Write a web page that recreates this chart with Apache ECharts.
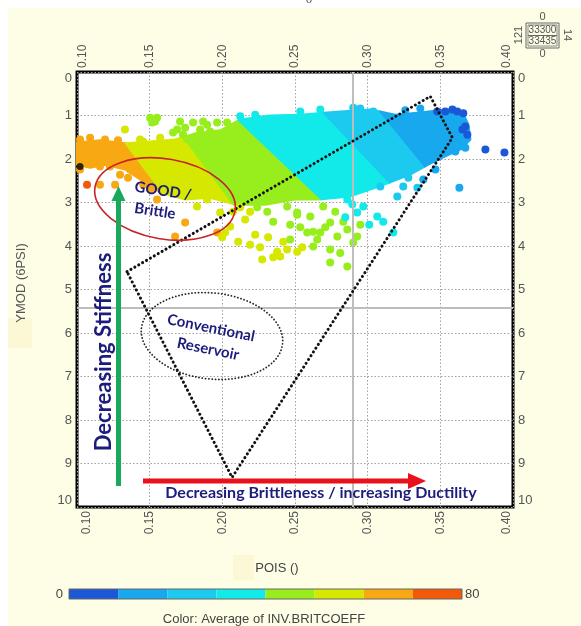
<!DOCTYPE html>
<html><head><meta charset="utf-8">
<script src="https://cdn.jsdelivr.net/npm/echarts@6/dist/echarts.min.js"></script>
<style>html,body{margin:0;padding:0;background:#fff}#c{width:581px;height:626px}</style>
</head><body><div id="c"></div>
<script>
// ---------- data ----------
const xTickLabels = ['0.10','0.15','0.20','0.25','0.30','0.35','0.40'];
const yTickLabels = ['0','1','2','3','4','5','6','7','8','9','10'];
const colorBins = [0,10,20,30,40,50,60,70,80];
const palette = ['#1a58d8','#18a8ee','#1ccaf0','#12eaea','#98ee1c','#d6e800','#f8a812','#f25a0a'];

// outline of the dense point cloud [POIS, YMOD]
const cloudOutline = [[0.1000,1.62],[0.1158,1.57],[0.1331,1.64],[0.1503,1.60],[0.1675,1.55],[0.1813,1.41],[0.1985,1.34],[0.2123,1.09],[0.2329,1.00],[0.2536,0.98],[0.2811,0.91],[0.3018,0.86],[0.3190,0.98],[0.3362,0.93],[0.3534,0.86],[0.3652,0.91],[0.3693,1.21],[0.3707,1.55],[0.3638,1.78],[0.3534,1.94],[0.3417,2.13],[0.3293,2.36],[0.3169,2.52],[0.3052,2.66],[0.2880,2.86],[0.2674,2.93],[0.2501,2.93],[0.2295,3.05],[0.2088,3.05],[0.1916,2.89],[0.1744,2.93],[0.1572,2.77],[0.1434,2.47],[0.1331,2.24],[0.1193,2.13],[0.1090,2.20],[0.1000,2.13]];
// colour-band boundaries inside the cloud (top point, bottom point)
const bandBoundaries = [
  [[0.1110,0.632],[0.1675,3.16]],
  [[0.1544,0.632],[0.2102,3.16]],
  [[0.1964,0.632],[0.2756,3.16]],
  [[0.2612,0.632],[0.3328,3.16]],
  [[0.3018,0.632],[0.3638,3.16]]
];
const bandValues = [65,55,45,35,25,15];

// individual points [POIS, YMOD, INV.BRITCOEFF]
const orangePts = [[0.1021,1.55,65],[0.1090,1.51,65],[0.1193,1.55,65],[0.1282,1.57,65],[0.1021,2.24,65],
  [0.1158,2.59,65],[0.1262,2.59,65],[0.1351,2.43,65],[0.1455,2.59,65],[0.1551,2.93,65],[0.1744,3.46,65],
  [0.1675,3.78,65],[0.1964,3.69,65],[0.1227,2.17,65],[0.1110,2.01,65],[0.1158,2.17,65],[0.1365,2.24,65],
  [0.1413,2.31,65],[0.1296,2.36,65],[0.1503,2.70,65],[0.1069,2.59,75]];
const yellowPts = [[0.1330,1.32,55],[0.1455,1.60,55],[0.1434,1.55,55],[0.1572,1.51,55],
  [0.2054,3.55,55],[0.2109,3.90,55],[0.2191,3.97,55],[0.2260,4.03,55],[0.2315,3.80,55],[0.2377,4.13,55],
  [0.2419,3.90,55],[0.2350,4.26,55],[0.2398,4.24,55],[0.2515,4.13,55],[0.2550,4.03,55],[0.2446,4.08,55],
  [0.2274,4.31,55],[0.2226,3.74,55],[0.2157,3.39,55],[0.2074,3.21,55],[0.2123,3.11,55],[0.2191,3.21,55],
  [0.1826,3.09,55],[0.1895,2.93,55],[0.1985,3.23,55],[0.1999,3.80,55],[0.2019,3.69,55]];
const greenPts = [[0.1537,1.14,45],[0.1517,1.16,45],[0.1661,1.39,45],[0.1689,1.32,45],[0.1744,1.28,45],
  [0.1799,1.16,45],[0.1847,1.32,45],[0.1895,1.21,45],[0.1964,1.16,45],[0.2033,1.16,45],[0.1758,1.55,45],
  [0.1709,1.14,45],[0.1730,1.44,45],[0.1868,1.14,45],[0.1503,1.05,45],[0.1551,1.05,45],[0.1916,1.37,45],
  [0.2446,3.09,45],[0.2515,3.23,45],[0.2605,3.32,45],[0.2694,3.09,45],[0.2742,3.46,45],[0.2674,3.69,45],
  [0.2584,3.69,45],[0.2791,3.78,45],[0.2860,3.62,45],[0.2928,3.78,45],[0.2901,3.92,45],[0.2742,4.08,45],
  [0.2625,4.01,45],[0.2811,4.16,45],[0.2742,4.38,45],[0.2860,4.47,45],[0.2467,3.85,45],[0.2536,3.57,45],
  [0.2653,3.85,45],[0.2832,3.44,45],[0.2777,3.21,45],[0.2949,3.51,45],[0.2240,3.11,45],[0.2309,3.21,45],
  [0.2350,3.44,45],[0.2467,3.51,45],[0.2515,3.28,45],[0.2625,3.67,45],[0.2708,3.57,45]];
const cyanPts = [[0.2536,0.91,35],[0.2226,0.98,35],[0.2123,1.02,35],[0.2674,0.86,35],[0.2901,0.82,25],
  [0.2949,0.84,25],[0.3039,0.91,25],[0.3259,0.88,15],[0.3362,0.84,15],
  [0.2860,2.93,35],[0.2928,3.23,35],[0.2970,3.09,35],[0.3066,3.32,35],[0.3107,3.44,35],[0.3176,3.69,35],
  [0.3087,2.63,25],[0.3204,2.86,25],[0.3245,2.63,25],[0.3342,2.66,25],[0.3280,2.43,25],[0.3383,2.47,15],
  [0.3011,3.51,35],[0.2846,3.34,35],[0.2894,3.04,35],[0.3466,2.24,15]];
const bluePts = [[0.3479,0.91,5],[0.3534,0.91,5],[0.3583,0.86,5],[0.3617,0.91,5],[0.3658,0.95,5],
  [0.3652,1.32,5],[0.3686,1.44,5],[0.3672,1.25,5],[0.3569,1.55,15],[0.3624,1.71,15],[0.3672,1.74,15],
  [0.3603,1.83,15],[0.3810,1.78,5],[0.3941,1.85,5],[0.3631,2.66,15]];
const blackPts = [[0.1021,2.17]];

// annotation: dotted triangle [POIS, YMOD]
const triangle = [[0.1344,4.59],[0.3431,0.56],[0.3583,1.51],[0.2067,9.32],[0.1344,4.59]];
const refLineX = 0.295, refLineY = 5.41;

// ---------- geometry helpers ----------
function clipHalf(poly, a, b, sign) {
  const side = p => ((b[0]-a[0])*(p[1]-a[1]) - (b[1]-a[1])*(p[0]-a[0])) * sign;
  const out = [];
  for (let i = 0; i < poly.length; i++) {
    const P = poly[i], Q = poly[(i+1) % poly.length];
    const sp = side(P), sq = side(Q);
    if (sp >= 0) out.push(P);
    if ((sp >= 0) !== (sq >= 0)) {
      const t = sp / (sp - sq);
      out.push([P[0] + t*(Q[0]-P[0]), P[1] + t*(Q[1]-P[1])]);
    }
  }
  return out;
}
const bandPolys = bandValues.map((v, i) => {
  let p = cloudOutline;
  if (i > 0) p = clipHalf(p, bandBoundaries[i-1][0], bandBoundaries[i-1][1], -1);
  if (i < bandBoundaries.length) p = clipHalf(p, bandBoundaries[i][0], bandBoundaries[i][1], 1);
  return p;
});
const colorOf = v => palette[Math.min(7, Math.floor(v / 10))];

// ---------- chart ----------
const chart = echarts.init(document.getElementById('c'), null, {renderer: 'canvas'});
const tickFont = {fontSize: 12, color: '#555', fontFamily: 'Liberation Sans'};
const yFont = {fontSize: 13, color: '#555', fontFamily: 'Liberation Sans'};
function xLabel(first, last) {
  return {rotate: 90, ...tickFont, margin: 4,
    formatter: v => {
      const i = Math.round((v - 0.1) / 0.05);
      if (i === 0) return '{f|' + xTickLabels[i] + '}';
      if (i === xTickLabels.length - 1) return '{l|' + xTickLabels[i] + '}';
      return xTickLabels[i];
    },
    rich: {f: {...tickFont, padding: [first, 0, 0, 0]}, l: {...tickFont, padding: [0, 0, last, 0]}}};
}
const axisLabelY = {...yFont, margin: 5,
  formatter: v => {
    const i = Math.round(v);
    if (i === 0) return '{f|' + yTickLabels[i] + '}';
    if (i === yTickLabels.length - 1) return '{l|' + yTickLabels[i] + '}';
    return yTickLabels[i];
  },
  rich: {f: {...yFont, padding: [12, 0, 0, 0]}, l: {...yFont, padding: [0, 0, 14, 0]}}};
const dotted = {color: '#a0a0a0', type: [1.5, 2], width: 1};
const navy = '#1c1c7c';
const annFont = 'Lato';

const scatterSeries = (data, name) => ({
  type: 'scatter', name, data, symbolSize: 8, z: 3, silent: true,
  itemStyle: {color: p => colorOf(p.value[2]), opacity: 1}
});

const option = {
  backgroundColor: '#fefde6',
  animation: false,
  grid: [
    {left: 77, top: 72, width: 436, height: 435, show: true, backgroundColor: '#fff', borderColor: '#000', borderWidth: 3},
    {left: 69, top: 589, width: 393, height: 10, show: false}
  ],
  xAxis: [
    {type: 'value', gridIndex: 0, min: 0.1, max: 0.4, interval: 0.05, position: 'bottom',
      axisLine: {show: false}, axisTick: {show: false}, axisLabel: xLabel(20, 12), splitLine: {show: true, lineStyle: dotted}},
    {type: 'value', gridIndex: 0, min: 0.1, max: 0.4, interval: 0.05, position: 'top',
      axisLine: {show: false}, axisTick: {show: false}, axisLabel: xLabel(12, 12), splitLine: {show: false}},
    {type: 'value', gridIndex: 1, min: 0, max: 80, show: false}
  ],
  yAxis: [
    {type: 'value', gridIndex: 0, inverse: true, min: 0, max: 10, interval: 1, position: 'left',
      axisLine: {show: false}, axisTick: {show: false}, axisLabel: axisLabelY, splitLine: {show: true, lineStyle: dotted}},
    {type: 'value', gridIndex: 0, inverse: true, min: 0, max: 10, interval: 1, position: 'right',
      axisLine: {show: false}, axisTick: {show: false}, axisLabel: axisLabelY, splitLine: {show: false}},
    {type: 'category', gridIndex: 1, data: ['c'], show: false}
  ],
  series: [
    {type: 'custom', name: 'dense', xAxisIndex: 0, yAxisIndex: 0, z: 2, silent: true,
      data: bandValues.map((v, i) => [0.2, 5, i]),
      renderItem: (params, api) => {
        const i = api.value(2);
        return {type: 'polygon', shape: {points: bandPolys[i].map(p => api.coord(p))},
          style: {fill: colorOf(bandValues[i]), stroke: colorOf(bandValues[i]), lineWidth: 2, lineJoin: 'round'}};
      }},
    scatterSeries(orangePts, 'orange'),
    scatterSeries(yellowPts, 'yellow'),
    scatterSeries(greenPts, 'green'),
    scatterSeries(cyanPts, 'cyan'),
    scatterSeries(bluePts, 'blue'),
    {type: 'scatter', data: blackPts, symbolSize: 7, z: 3, itemStyle: {color: '#000'}, silent: true},
    {type: 'line', data: [], z: 5, silent: true,
      markLine: {silent: true, symbol: 'none', label: {show: false}, animation: false,
        lineStyle: {color: '#bdbdbd', type: 'solid', width: 2},
        data: [{xAxis: refLineX}, {yAxis: refLineY}]}},
    {type: 'line', data: triangle, z: 6, silent: true, showSymbol: false, symbol: 'none',
      lineStyle: {color: '#111', width: 3, type: [0.1, 4.4], cap: 'round'}},
  ].concat(palette.map((c, i) => ({
    type: 'bar', xAxisIndex: 2, yAxisIndex: 2, stack: 'cb', barWidth: '100%', silent: true,
    data: [colorBins[i+1] - colorBins[i]], itemStyle: {color: c}
  }))),
  graphic: [
    {type: 'rect', shape: {x: 0, y: 0, width: 581, height: 8}, style: {fill: '#fff'}, z: -1, silent: true},
    {type: 'rect', shape: {x: 0, y: 0, width: 8, height: 626}, style: {fill: '#fff'}, z: -1, silent: true},
    {type: 'rect', shape: {x: 8, y: 318, width: 24, height: 30}, style: {fill: '#fcf8d6'}, z: -1, silent: true},
    {type: 'rect', shape: {x: 233, y: 555, width: 21, height: 25}, style: {fill: '#fcf8d6'}, z: -1, silent: true},
    {type: 'text', x: 293, y: -3, style: {text: 'POIS ()', fontSize: 12, fill: '#555', align: 'center', verticalAlign: 'middle', fontFamily: 'Liberation Sans'}, silent: true},
    {type: 'text', x: 21, y: 283, rotation: Math.PI/2, style: {text: 'YMOD (6PSI)', fontSize: 13, fill: '#555', align: 'center', verticalAlign: 'middle', fontFamily: 'Liberation Sans'}, silent: true},
    {type: 'text', x: 277, y: 568, style: {text: 'POIS ()', fontSize: 13, fill: '#444', align: 'center', verticalAlign: 'middle', fontFamily: 'Liberation Sans'}, silent: true},
    {type: 'text', x: 264, y: 619, style: {text: 'Color: Average of INV.BRITCOEFF', fontSize: 13, fill: '#444', align: 'center', verticalAlign: 'middle', fontFamily: 'Liberation Sans'}, silent: true},
    {type: 'text', x: 63, y: 594, style: {text: String(colorBins[0]), fontSize: 13, fill: '#444', align: 'right', verticalAlign: 'middle', fontFamily: 'Liberation Sans'}, silent: true},
    {type: 'text', x: 465, y: 594, style: {text: String(colorBins[8]), fontSize: 13, fill: '#444', align: 'left', verticalAlign: 'middle', fontFamily: 'Liberation Sans'}, silent: true},
    {type: 'rect', shape: {x: 69, y: 589, width: 393, height: 10}, style: {fill: 'none', stroke: '#666', lineWidth: 1}, z: 100, silent: true},
    // top-right info box
    {type: 'rect', shape: {x: 526, y: 23, width: 33, height: 25}, style: {fill: 'none', stroke: '#666', lineWidth: 1}, z: 100, silent: true},
    {type: 'rect', shape: {x: 528, y: 25, width: 29, height: 21}, style: {fill: 'none', stroke: '#888', lineWidth: 1}, z: 100, silent: true},
    {type: 'line', shape: {x1: 528, y1: 35.5, x2: 557, y2: 35.5}, style: {stroke: '#666', lineWidth: 1}, z: 100, silent: true},
    {type: 'text', x: 542.5, y: 30.5, style: {text: '33300', fontSize: 10, fill: '#555', align: 'center', verticalAlign: 'middle', fontFamily: 'Liberation Sans'}, z: 100, silent: true},
    {type: 'text', x: 542.5, y: 41, style: {text: '33435', fontSize: 10, fill: '#555', align: 'center', verticalAlign: 'middle', fontFamily: 'Liberation Sans'}, z: 100, silent: true},
    {type: 'text', x: 542.5, y: 17, style: {text: '0', fontSize: 11, fill: '#555', align: 'center', verticalAlign: 'middle', fontFamily: 'Liberation Sans'}, z: 100, silent: true},
    {type: 'text', x: 542.5, y: 54, style: {text: '0', fontSize: 11, fill: '#555', align: 'center', verticalAlign: 'middle', fontFamily: 'Liberation Sans'}, z: 100, silent: true},
    {type: 'text', x: 519, y: 35, rotation: Math.PI/2, style: {text: '121', fontSize: 11, fill: '#555', align: 'center', verticalAlign: 'middle', fontFamily: 'Liberation Sans'}, z: 100, silent: true},
    {type: 'text', x: 567, y: 35, rotation: -Math.PI/2, style: {text: '14', fontSize: 11, fill: '#555', align: 'center', verticalAlign: 'middle', fontFamily: 'Liberation Sans'}, z: 100, silent: true},
    // annotations
    {type: 'ellipse', x: 165, y: 199, rotation: -0.17, shape: {cx: 0, cy: 0, rx: 71, ry: 40}, style: {fill: 'none', stroke: '#c8222a', lineWidth: 1.6}, z: 100, silent: true},
    {type: 'ellipse', x: 212, y: 336, rotation: -0.11, shape: {cx: 0, cy: 0, rx: 71, ry: 43}, style: {fill: 'none', stroke: '#222', lineWidth: 1.8, lineDash: [0.1, 3.2], lineCap: 'round'}, z: 100, silent: true},
    {type: 'text', x: 163, y: 191, rotation: -0.15, style: {text: 'GOOD /', fontSize: 15, fontWeight: 'bold', fill: navy, align: 'center', verticalAlign: 'middle', fontFamily: annFont}, z: 101, silent: true},
    {type: 'text', x: 155, y: 211, rotation: -0.15, style: {text: 'Brittle', fontSize: 15, fontWeight: 'bold', fill: navy, align: 'center', verticalAlign: 'middle', fontFamily: annFont}, z: 101, silent: true},
    {type: 'text', x: 211, y: 328, rotation: -0.2, style: {text: 'Conventional', fontSize: 15, fontWeight: 'bold', fill: navy, align: 'center', verticalAlign: 'middle', fontFamily: annFont}, z: 101, silent: true},
    {type: 'text', x: 208, y: 349, rotation: -0.2, style: {text: 'Reservoir', fontSize: 15, fontWeight: 'bold', fill: navy, align: 'center', verticalAlign: 'middle', fontFamily: annFont}, z: 101, silent: true},
    {type: 'text', x: 104, y: 352, rotation: Math.PI/2, style: {text: 'Decreasing Stiffness', fontSize: 22, fontWeight: 'bold', fill: navy, align: 'center', verticalAlign: 'middle', fontFamily: annFont}, z: 101, silent: true},
    {type: 'text', x: 321, y: 493, style: {text: 'Decreasing Brittleness / increasing Ductility', fontSize: 16, fontWeight: 'bold', fill: navy, align: 'center', verticalAlign: 'middle', fontFamily: annFont}, z: 101, silent: true},
    {type: 'line', shape: {x1: 118.5, y1: 486, x2: 118.5, y2: 200}, style: {stroke: '#1aa85c', lineWidth: 5}, z: 100, silent: true},
    {type: 'polygon', shape: {points: [[111.5, 201], [125.5, 201], [118.5, 186]]}, style: {fill: '#1aa85c'}, z: 100, silent: true},
    {type: 'line', shape: {x1: 143, y1: 481, x2: 409, y2: 481}, style: {stroke: '#e8121c', lineWidth: 5}, z: 100, silent: true},
    {type: 'polygon', shape: {points: [[408, 473], [408, 489], [426, 481]]}, style: {fill: '#e8121c'}, z: 100, silent: true}
  ]
};
chart.setOption(option);
</script></body></html>
